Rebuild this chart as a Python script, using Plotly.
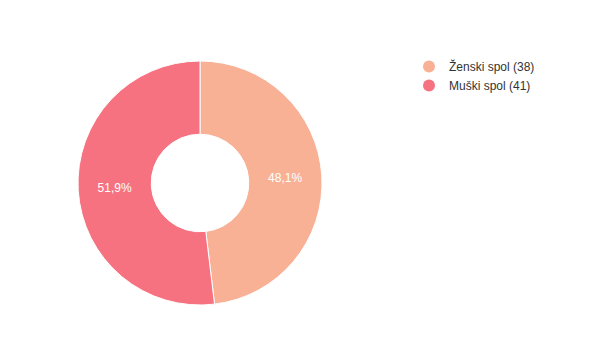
import plotly.graph_objects as go

categories = ["Ženski spol", "Muški spol"]
counts = [38, 41]
colors = ["#F8B195", "#F67280"]

labels = [f"{c} ({n})" for c, n in zip(categories, counts)]

W, H = 605, 355
cx, cy, r = 200, 183, 122

fig = go.Figure()
fig.add_trace(go.Pie(
    labels=labels,
    values=counts,
    hole=0.4,
    sort=False,
    direction="clockwise",
    rotation=0,
    marker=dict(colors=colors, line=dict(color="white", width=1)),
    texttemplate="%{percent:.1%}",
    textposition="inside",
    insidetextorientation="horizontal",
    textfont=dict(color="white", size=12, family="Liberation Sans, Arial, sans-serif"),
    showlegend=False,
    hoverinfo="label+percent",
    domain=dict(x=[(cx - r) / W, (cx + r) / W], y=[(H - cy - r) / H, (H - cy + r) / H]),
))

for lab, col in zip(labels, colors):
    fig.add_trace(go.Scatter(
        x=[None], y=[None], mode="markers", name=lab,
        marker=dict(symbol="circle", size=13, color=col),
        showlegend=True,
    ))

fig.update_layout(
    width=W, height=H,
    margin=dict(l=0, r=0, t=0, b=0),
    paper_bgcolor="white",
    plot_bgcolor="white",
    separators=",.",
    xaxis=dict(visible=False),
    yaxis=dict(visible=False),
    legend=dict(
        x=409 / W, y=1 - 52 / H, xanchor="left", yanchor="top",
        font=dict(size=12, color="#333333", family="Liberation Sans, Arial, sans-serif"),
        itemsizing="constant",
        tracegroupgap=0,
        bgcolor="rgba(0,0,0,0)",
    ),
)

fig.write_html("out.html")
